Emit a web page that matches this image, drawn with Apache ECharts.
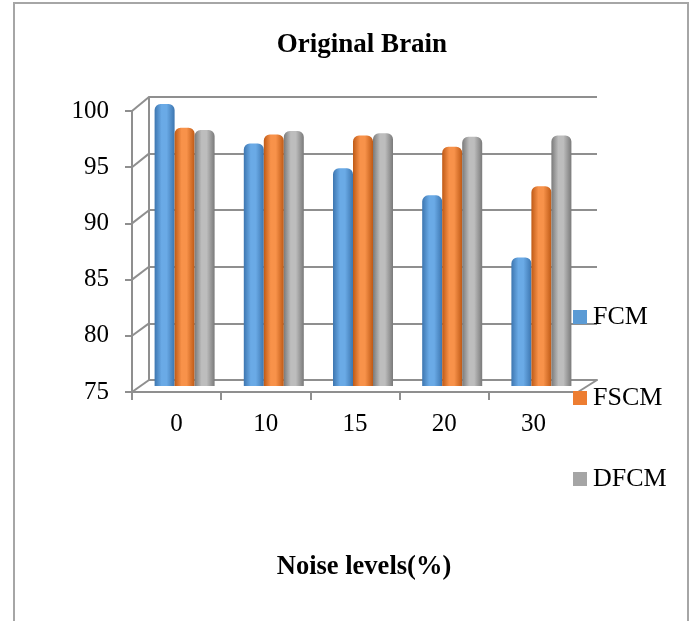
<!DOCTYPE html>
<html>
<head>
<meta charset="utf-8">
<script src="https://cdn.jsdelivr.net/npm/echarts@6/dist/echarts.min.js"></script>
<style>
html,body{margin:0;padding:0;background:#fff;}
#c{width:691px;height:621px;}
</style>
</head>
<body>
<div id="c"></div>
<script>
const categories = ['0', '10', '15', '20', '30'];
const seriesNames = ['FCM', 'FSCM', 'DFCM'];
const fcm = [100, 96.5, 94.3, 91.9, 86.4];
const fscm = [97.9, 97.3, 97.2, 96.2, 92.7];
const dfcm = [97.7, 97.6, 97.4, 97.1, 97.2];
const yMin = 75, yMax = 100, yStep = 5;
const titleText = 'Original Brain';
const xTitle = 'Noise levels(%)';

const FONT = '"Liberation Serif", "Times New Roman", serif';
const baseColors = ['#5B9BD5', '#ED7D31', '#A5A5A5'];
function cyl(dark, light) {
  return new echarts.graphic.LinearGradient(0, 0, 1, 0, [
    {offset: 0, color: dark}, {offset: 0.35, color: light},
    {offset: 0.6, color: light}, {offset: 1, color: dark}
  ]);
}
const fills = [cyl('#3d76b0', '#6aaae6'), cyl('#bf5a16', '#f8924a'), cyl('#7a7a7a', '#bdbdbd')];

const chart = echarts.init(document.getElementById('c'));
const back = {left: 149, top: 97, width: 448, height: 283};
const front = {left: 132, top: 111, width: 446, height: 281};
const barsG = {left: 140, top: 104, width: 446, height: 282};

const values = [fcm, fscm, dfcm];
chart.setOption({
  animation: false,
  title: [
    {text: titleText, left: 362, top: 32, textAlign: 'center', padding: 0,
     textStyle: {fontFamily: FONT, fontSize: 27, fontWeight: 'bold', color: '#000'}},
    {text: xTitle, left: 364, top: 554, textAlign: 'center', padding: 0,
     textStyle: {fontFamily: FONT, fontSize: 26.5, fontWeight: 'bold', color: '#000'}}
  ],
  legend: {
    orient: 'vertical', left: 573, top: 304, padding: 0, itemWidth: 14, itemHeight: 14, itemGap: 55,
    icon: 'rect',
    textStyle: {fontFamily: FONT, fontSize: 26, lineHeight: 24, color: '#000', padding: [0, 0, 0, 1]},
    data: seriesNames.map((n, i) => ({name: n, itemStyle: {color: baseColors[i]}}))
  },
  grid: [
    Object.assign({}, back),
    Object.assign({}, front),
    Object.assign({}, barsG)
  ],
  xAxis: [
    {type: 'category', gridIndex: 0, data: categories,
     axisLine: {show: true, lineStyle: {color: '#8f8f8f', width: 2}},
     axisTick: {show: false}, axisLabel: {show: false}},
    {type: 'category', gridIndex: 1, data: categories,
     axisLine: {show: true, lineStyle: {color: '#8f8f8f', width: 2}},
     axisTick: {show: true, length: 8, lineStyle: {color: '#8f8f8f', width: 2}},
     axisLabel: {fontFamily: FONT, fontSize: 25, color: '#000', margin: 20}},
    {type: 'category', gridIndex: 2, data: categories, show: false}
  ],
  yAxis: [
    {type: 'value', gridIndex: 0, min: yMin, max: yMax, interval: yStep,
     axisLine: {show: true, lineStyle: {color: '#8f8f8f', width: 2}},
     axisTick: {show: false}, axisLabel: {show: false},
     splitLine: {show: true, lineStyle: {color: '#8f8f8f', width: 2}}},
    {type: 'value', gridIndex: 1, min: yMin, max: yMax, interval: yStep,
     axisLine: {show: true, lineStyle: {color: '#8f8f8f', width: 2}},
     axisTick: {show: true, length: 7, lineStyle: {color: '#8f8f8f', width: 2}},
     axisLabel: {fontFamily: FONT, fontSize: 25, color: '#000', margin: 23},
     splitLine: {show: false}},
    {type: 'value', gridIndex: 2, min: yMin, max: yMax, interval: yStep, show: false,
     splitLine: {show: false}}
  ],
  series: seriesNames.map((n, i) => ({
    name: n, type: 'bar', xAxisIndex: 2, yAxisIndex: 2,
    data: values[i], barWidth: 20, barGap: '0%',
    itemStyle: {color: fills[i], borderRadius: [6, 6, 0, 0]}
  }))
});

// 3D connector lines between the front axis and the back wall
const g = [];
for (let v = yMin; v <= yMax; v += yStep) {
  const yf = chart.convertToPixel({yAxisIndex: 1}, v);
  const yb = chart.convertToPixel({yAxisIndex: 0}, v);
  g.push({type: 'line', shape: {x1: front.left, y1: yf, x2: back.left, y2: yb},
          style: {stroke: '#8f8f8f', lineWidth: 2}, z: 1});
}
const yf0 = chart.convertToPixel({yAxisIndex: 1}, yMin);
const yb0 = chart.convertToPixel({yAxisIndex: 0}, yMin);
g.push({type: 'line', shape: {x1: front.left + front.width, y1: yf0, x2: back.left + back.width, y2: yb0},
        style: {stroke: '#8f8f8f', lineWidth: 2}, z: 1});
g.push({type: 'rect', shape: {x: 14, y: 3, width: 674, height: 700},
        style: {fill: 'none', stroke: '#a6a6a6', lineWidth: 2}, z: 0});
chart.setOption({graphic: g});
</script>
</body>
</html>
